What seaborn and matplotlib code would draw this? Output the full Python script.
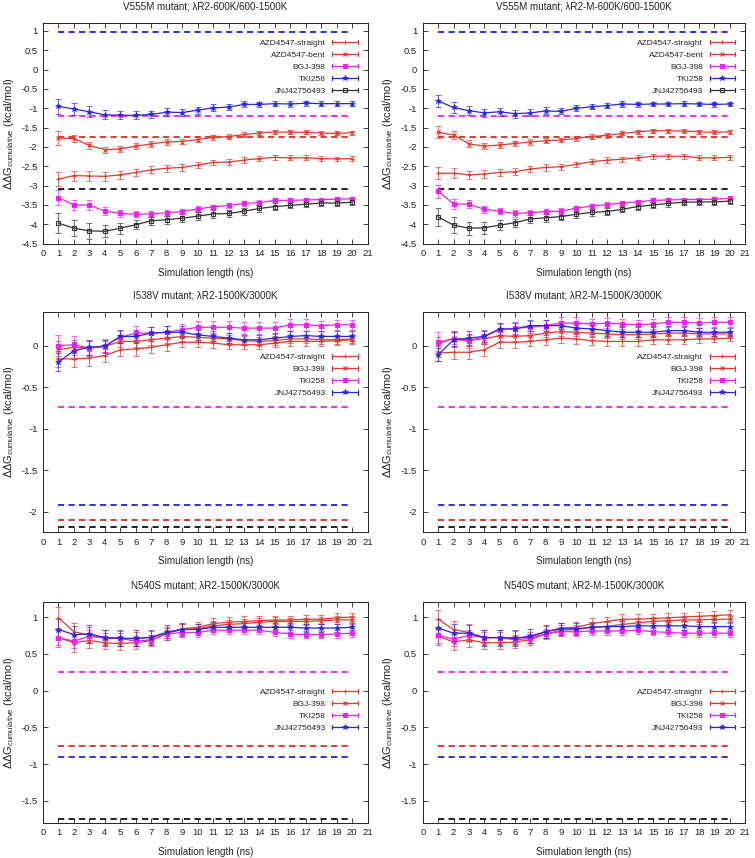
import matplotlib
matplotlib.use("Agg")
import matplotlib.pyplot as plt
import seaborn as sns
import pandas as pd
from matplotlib.legend_handler import HandlerBase
from matplotlib.lines import Line2D

ns = list(range(1, 21))

# ---------------- Panel 1: V555M, lambdaR2-600K/600-1500K ----------------
p1_straight = [-2.83, -2.74, -2.75, -2.76, -2.72, -2.66, -2.59, -2.55, -2.53, -2.47,
               -2.40, -2.39, -2.34, -2.30, -2.27, -2.28, -2.28, -2.30, -2.31, -2.30]
p1_straight_err = [0.18, 0.13, 0.12, 0.11, 0.10, 0.10, 0.09, 0.09, 0.08, 0.08,
                   0.07, 0.07, 0.07, 0.06, 0.06, 0.06, 0.06, 0.06, 0.06, 0.06]
p1_bent = [-1.77, -1.78, -1.96, -2.07, -2.05, -1.98, -1.92, -1.87, -1.86, -1.81,
           -1.75, -1.73, -1.68, -1.64, -1.61, -1.62, -1.62, -1.64, -1.65, -1.63]
p1_bent_err = [0.17, 0.10, 0.08, 0.08, 0.08, 0.08, 0.07, 0.07, 0.07, 0.06,
               0.06, 0.06, 0.06, 0.05, 0.05, 0.05, 0.05, 0.05, 0.05, 0.05]
p1_bgj = [-3.31, -3.50, -3.50, -3.66, -3.72, -3.74, -3.73, -3.70, -3.67, -3.60,
          -3.55, -3.51, -3.46, -3.44, -3.38, -3.38, -3.37, -3.36, -3.35, -3.34]
p1_bgj_err = [0.20, 0.14, 0.12, 0.10, 0.09, 0.08, 0.08, 0.08, 0.07, 0.07,
              0.06, 0.06, 0.06, 0.06, 0.05, 0.05, 0.05, 0.05, 0.05, 0.05]
p1_tki = [-0.95, -1.02, -1.09, -1.17, -1.18, -1.18, -1.16, -1.10, -1.11, -1.05,
          -0.99, -0.97, -0.90, -0.90, -0.88, -0.89, -0.87, -0.88, -0.88, -0.88]
p1_tki_err = [0.20, 0.15, 0.14, 0.12, 0.11, 0.11, 0.10, 0.10, 0.10, 0.09,
              0.09, 0.08, 0.08, 0.07, 0.07, 0.07, 0.07, 0.07, 0.07, 0.07]
p1_jnj = [-3.97, -4.10, -4.17, -4.18, -4.10, -4.01, -3.91, -3.88, -3.84, -3.79,
          -3.73, -3.72, -3.66, -3.59, -3.54, -3.51, -3.48, -3.45, -3.45, -3.43]
p1_jnj_err = [0.25, 0.21, 0.20, 0.16, 0.14, 0.12, 0.11, 0.10, 0.10, 0.10,
              0.10, 0.09, 0.09, 0.08, 0.08, 0.08, 0.08, 0.08, 0.08, 0.08]
p1_ref = {"blue": 0.97, "magenta": -1.19, "red": -1.75, "black": -3.08}

# ---------------- Panel 2: V555M, lambdaR2-M-600K/600-1500K ----------------
p2_straight = [-2.68, -2.68, -2.72, -2.70, -2.66, -2.64, -2.57, -2.53, -2.51, -2.45,
               -2.38, -2.34, -2.32, -2.28, -2.24, -2.24, -2.24, -2.28, -2.28, -2.27]
p2_straight_err = [0.16, 0.13, 0.11, 0.10, 0.10, 0.09, 0.09, 0.08, 0.08, 0.07,
                   0.07, 0.07, 0.06, 0.06, 0.06, 0.06, 0.06, 0.06, 0.06, 0.06]
p2_bent = [-1.62, -1.69, -1.92, -1.98, -1.95, -1.91, -1.87, -1.84, -1.82, -1.78,
           -1.73, -1.70, -1.65, -1.61, -1.58, -1.58, -1.59, -1.61, -1.62, -1.61]
p2_bent_err = [0.15, 0.11, 0.09, 0.08, 0.08, 0.07, 0.07, 0.07, 0.06, 0.06,
               0.06, 0.06, 0.05, 0.05, 0.05, 0.05, 0.05, 0.05, 0.05, 0.05]
p2_bgj = [-3.15, -3.47, -3.48, -3.61, -3.66, -3.72, -3.70, -3.67, -3.66, -3.58,
          -3.53, -3.49, -3.45, -3.42, -3.38, -3.37, -3.36, -3.36, -3.35, -3.33]
p2_bgj_err = [0.17, 0.13, 0.11, 0.09, 0.08, 0.08, 0.07, 0.07, 0.07, 0.06,
              0.06, 0.06, 0.05, 0.05, 0.05, 0.05, 0.05, 0.05, 0.05, 0.05]
p2_tki = [-0.81, -0.98, -1.06, -1.12, -1.09, -1.14, -1.12, -1.07, -1.08, -1.00,
          -0.96, -0.93, -0.89, -0.90, -0.89, -0.89, -0.88, -0.89, -0.90, -0.89]
p2_tki_err = [0.16, 0.14, 0.12, 0.10, 0.10, 0.10, 0.09, 0.09, 0.08, 0.08,
              0.07, 0.07, 0.07, 0.06, 0.06, 0.06, 0.06, 0.06, 0.06, 0.06]
p2_jnj = [-3.81, -4.02, -4.10, -4.09, -4.02, -3.96, -3.86, -3.83, -3.80, -3.74,
          -3.69, -3.67, -3.61, -3.54, -3.50, -3.46, -3.43, -3.42, -3.42, -3.40]
p2_jnj_err = [0.24, 0.20, 0.17, 0.15, 0.12, 0.11, 0.10, 0.10, 0.10, 0.09,
              0.09, 0.09, 0.08, 0.08, 0.08, 0.08, 0.08, 0.08, 0.08, 0.08]
p2_ref = {"blue": 0.97, "magenta": -1.19, "red": -1.75, "black": -3.08}

# ---------------- Panel 3: I538V, lambdaR2-1500K/3000K ----------------
p3_straight = [-0.16, -0.16, -0.15, -0.12, -0.05, -0.04, -0.02, 0.01, 0.04, 0.04,
               0.03, 0.01, 0.01, 0.01, 0.03, 0.05, 0.05, 0.05, 0.06, 0.07]
p3_straight_err = [0.10, 0.10, 0.09, 0.08, 0.08, 0.08, 0.07, 0.07, 0.06, 0.06,
                   0.06, 0.05, 0.05, 0.05, 0.05, 0.05, 0.05, 0.05, 0.05, 0.05]
p3_bgj = [-0.05, -0.02, -0.03, -0.01, 0.05, 0.05, 0.07, 0.09, 0.11, 0.10,
          0.09, 0.08, 0.06, 0.05, 0.06, 0.08, 0.08, 0.07, 0.07, 0.08]
p3_bgj_err = [0.10, 0.09, 0.08, 0.07, 0.07, 0.07, 0.06, 0.06, 0.06, 0.05,
              0.05, 0.05, 0.05, 0.05, 0.05, 0.05, 0.05, 0.05, 0.05, 0.05]
p3_tki = [0.00, 0.01, -0.03, 0.00, 0.10, 0.15, 0.15, 0.16, 0.19, 0.22,
          0.22, 0.22, 0.21, 0.21, 0.21, 0.25, 0.25, 0.24, 0.25, 0.25]
p3_tki_err = [0.13, 0.10, 0.09, 0.08, 0.07, 0.08, 0.07, 0.07, 0.07, 0.07,
              0.07, 0.07, 0.07, 0.07, 0.07, 0.07, 0.07, 0.06, 0.06, 0.06]
p3_jnj = [-0.20, -0.06, -0.02, -0.01, 0.11, 0.11, 0.15, 0.16, 0.16, 0.13,
          0.11, 0.09, 0.07, 0.07, 0.09, 0.11, 0.12, 0.11, 0.11, 0.11]
p3_jnj_err = [0.11, 0.10, 0.09, 0.08, 0.08, 0.08, 0.07, 0.07, 0.07, 0.06,
              0.06, 0.06, 0.06, 0.06, 0.06, 0.06, 0.06, 0.06, 0.06, 0.06]
p3_ref = {"magenta": -0.74, "blue": -1.91, "red": -2.10, "black": -2.18}

# ---------------- Panel 4: I538V, lambdaR2-M-1500K/3000K ----------------
p4_straight = [-0.09, -0.08, -0.08, -0.05, 0.04, 0.04, 0.05, 0.07, 0.09, 0.08,
               0.06, 0.05, 0.05, 0.05, 0.07, 0.07, 0.07, 0.08, 0.08, 0.09]
p4_straight_err = [0.09, 0.08, 0.08, 0.07, 0.07, 0.07, 0.06, 0.06, 0.06, 0.06,
                   0.05, 0.05, 0.05, 0.05, 0.05, 0.05, 0.05, 0.05, 0.04, 0.04]
p4_bgj = [0.02, 0.09, 0.07, 0.08, 0.12, 0.11, 0.12, 0.15, 0.17, 0.16,
          0.15, 0.14, 0.13, 0.13, 0.14, 0.15, 0.15, 0.14, 0.14, 0.14]
p4_bgj_err = [0.08, 0.07, 0.07, 0.06, 0.06, 0.06, 0.05, 0.05, 0.05, 0.05,
              0.05, 0.05, 0.05, 0.05, 0.04, 0.04, 0.04, 0.04, 0.04, 0.04]
p4_tki = [0.04, 0.08, 0.05, 0.11, 0.19, 0.21, 0.22, 0.24, 0.27, 0.27,
          0.26, 0.27, 0.26, 0.25, 0.26, 0.28, 0.28, 0.27, 0.28, 0.28]
p4_tki_err = [0.12, 0.09, 0.08, 0.08, 0.07, 0.07, 0.07, 0.07, 0.07, 0.07,
              0.06, 0.06, 0.06, 0.06, 0.06, 0.06, 0.06, 0.06, 0.06, 0.06]
p4_jnj = [-0.11, 0.07, 0.09, 0.11, 0.20, 0.20, 0.24, 0.24, 0.24, 0.21,
          0.20, 0.18, 0.16, 0.16, 0.16, 0.18, 0.18, 0.16, 0.16, 0.16]
p4_jnj_err = [0.08, 0.09, 0.08, 0.07, 0.07, 0.07, 0.07, 0.07, 0.06, 0.06,
              0.06, 0.06, 0.06, 0.06, 0.06, 0.05, 0.05, 0.05, 0.05, 0.05]
p4_ref = {"magenta": -0.74, "blue": -1.91, "red": -2.10, "black": -2.18}

# ---------------- Panel 5: N540S, lambdaR2-1500K/3000K ----------------
p5_straight = [0.99, 0.80, 0.75, 0.72, 0.71, 0.70, 0.73, 0.79, 0.84, 0.86,
               0.91, 0.93, 0.94, 0.95, 0.96, 0.96, 0.97, 0.97, 0.99, 1.00]
p5_straight_err = [0.15, 0.12, 0.11, 0.10, 0.10, 0.09, 0.08, 0.08, 0.07, 0.07,
                   0.07, 0.07, 0.07, 0.06, 0.06, 0.06, 0.06, 0.06, 0.06, 0.06]
p5_bgj = [0.72, 0.65, 0.68, 0.65, 0.64, 0.65, 0.68, 0.78, 0.83, 0.84,
          0.88, 0.90, 0.91, 0.93, 0.94, 0.94, 0.94, 0.95, 0.96, 0.96]
p5_bgj_err = [0.13, 0.12, 0.10, 0.09, 0.09, 0.08, 0.07, 0.07, 0.07, 0.06,
              0.06, 0.06, 0.06, 0.06, 0.06, 0.05, 0.05, 0.05, 0.05, 0.05]
p5_tki = [0.72, 0.67, 0.74, 0.71, 0.71, 0.67, 0.69, 0.77, 0.79, 0.79,
          0.82, 0.82, 0.82, 0.82, 0.79, 0.77, 0.76, 0.76, 0.77, 0.78]
p5_tki_err = [0.10, 0.09, 0.08, 0.07, 0.07, 0.07, 0.06, 0.06, 0.06, 0.06,
              0.05, 0.05, 0.05, 0.05, 0.05, 0.05, 0.05, 0.05, 0.05, 0.05]
p5_jnj = [0.83, 0.76, 0.77, 0.72, 0.71, 0.71, 0.72, 0.79, 0.83, 0.83,
          0.86, 0.86, 0.86, 0.86, 0.86, 0.86, 0.85, 0.85, 0.85, 0.86]
p5_jnj_err = [0.14, 0.12, 0.12, 0.11, 0.11, 0.11, 0.10, 0.10, 0.09, 0.08,
              0.07, 0.07, 0.07, 0.07, 0.06, 0.06, 0.06, 0.06, 0.06, 0.06]
p5_ref = {"magenta": 0.25, "red": -0.76, "blue": -0.90, "black": -1.75}

# ---------------- Panel 6: N540S, lambdaR2-M-1500K/3000K ----------------
p6_straight = [0.97, 0.83, 0.79, 0.72, 0.72, 0.72, 0.72, 0.80, 0.85, 0.86,
               0.91, 0.94, 0.97, 0.97, 0.98, 0.99, 1.00, 1.01, 1.02, 1.03]
p6_straight_err = [0.13, 0.12, 0.11, 0.10, 0.10, 0.09, 0.08, 0.08, 0.07, 0.07,
                   0.07, 0.06, 0.07, 0.07, 0.06, 0.06, 0.06, 0.06, 0.06, 0.06]
p6_bgj = [0.74, 0.66, 0.69, 0.65, 0.65, 0.66, 0.69, 0.77, 0.82, 0.83,
          0.86, 0.87, 0.90, 0.92, 0.94, 0.95, 0.96, 0.96, 0.97, 0.97]
p6_bgj_err = [0.12, 0.11, 0.10, 0.09, 0.09, 0.08, 0.07, 0.07, 0.07, 0.06,
              0.06, 0.06, 0.06, 0.06, 0.06, 0.05, 0.05, 0.05, 0.05, 0.05]
p6_tki = [0.75, 0.70, 0.75, 0.72, 0.72, 0.69, 0.71, 0.77, 0.80, 0.80,
          0.81, 0.81, 0.81, 0.82, 0.80, 0.79, 0.78, 0.78, 0.78, 0.78]
p6_tki_err = [0.10, 0.09, 0.08, 0.07, 0.07, 0.07, 0.06, 0.06, 0.06, 0.06,
              0.05, 0.05, 0.05, 0.05, 0.05, 0.05, 0.05, 0.05, 0.05, 0.05]
p6_jnj = [0.85, 0.78, 0.78, 0.72, 0.72, 0.71, 0.74, 0.80, 0.84, 0.84,
          0.86, 0.87, 0.87, 0.88, 0.88, 0.88, 0.88, 0.87, 0.87, 0.87]
p6_jnj_err = [0.12, 0.12, 0.11, 0.11, 0.11, 0.11, 0.10, 0.09, 0.08, 0.08,
              0.07, 0.07, 0.07, 0.07, 0.06, 0.06, 0.06, 0.06, 0.06, 0.06]
p6_ref = {"magenta": 0.25, "red": -0.76, "blue": -0.90, "black": -1.75}

titles = [
    "V555M mutant; \u03bbR2-600K/600-1500K",
    "V555M mutant; \u03bbR2-M-600K/600-1500K",
    "I538V mutant; \u03bbR2-1500K/3000K",
    "I538V mutant; \u03bbR2-M-1500K/3000K",
    "N540S mutant; \u03bbR2-1500K/3000K",
    "N540S mutant; \u03bbR2-M-1500K/3000K",
]

RED = "#e23a30"
MAG = "#f020f0"
BLUE = "#2828e0"
BLACK = "#333333"
REF_COLORS = {"blue": "#3030e8", "magenta": "#f030f0", "red": "#e03a30", "black": "#222222"}

sns.set_theme(style="ticks")
plt.rcParams["font.family"] = ["Liberation Sans", "DejaVu Sans"]
plt.rcParams["mathtext.fontset"] = "custom"
plt.rcParams["mathtext.rm"] = "Liberation Sans"
plt.rcParams["mathtext.it"] = "Liberation Sans:italic"
plt.rcParams["mathtext.bf"] = "Liberation Sans:bold"

FS_TICK = 6.8
FS_LAB = 7.1
FS_YLAB = 7.9
FS_LEG = 6.0
TXT = "#222222"


class ErrHandler(HandlerBase):
    def create_artists(self, legend, orig_handle, xdescent, ydescent,
                       width, height, fontsize, trans):
        y = height / 2.0 - ydescent
        x0, x1 = -xdescent, width - xdescent
        c = orig_handle.get_color()
        cap = height * 0.38
        arts = [
            Line2D([x0, x1], [y, y], color=c, lw=0.9, transform=trans),
            Line2D([x0, x0], [y - cap, y + cap], color=c, lw=0.9, transform=trans),
            Line2D([x1, x1], [y - cap, y + cap], color=c, lw=0.9, transform=trans),
            Line2D([(x0 + x1) / 2.0], [y], ls="", marker=orig_handle.get_marker(),
                   ms=orig_handle.get_markersize(), mfc=orig_handle.get_markerfacecolor(),
                   mec=orig_handle.get_markeredgecolor(), mew=orig_handle.get_markeredgewidth(),
                   transform=trans),
        ]
        return arts


def style(marker, color):
    if marker == "s_open":
        return dict(marker="s", ms=3.3, mfc="none", mec=color, mew=0.8)
    if marker == "s":
        return dict(marker="s", ms=3.3, mfc=color, mec=color, mew=0.8)
    if marker == "*":
        return dict(marker="*", ms=4.2, mfc=color, mec=color, mew=0.5)
    return dict(marker=marker, ms=3.5, mfc=color, mec=color, mew=0.8)


def draw_panel(ax, series, refs, title, ylim, yticks, leg_anchor, leg_spacing):
    for key, val in refs.items():
        ax.hlines(val, ns[0], ns[-1], colors=REF_COLORS[key],
                  linestyles=(0, (3.2, 2.2)), lw=1.4, zorder=1)
    handles = []
    for name, y, e, color, mk in series:
        st = style(mk, color)
        ax.errorbar(ns, y, yerr=e, fmt="none", ecolor=color, elinewidth=0.8,
                    capsize=2.5, capthick=0.8, alpha=0.65, zorder=2)
        df = pd.DataFrame({"ns": ns, "dg": y})
        sns.lineplot(data=df, x="ns", y="dg", ax=ax, color=color, lw=0.9,
                     marker=st["marker"], markersize=st["ms"],
                     markerfacecolor=st["mfc"], markeredgecolor=st["mec"],
                     markeredgewidth=st["mew"], zorder=3)
        handles.append(Line2D([], [], color=color, lw=0.9, marker=st["marker"],
                              ms=st["ms"], mfc=st["mfc"], mec=st["mec"], mew=st["mew"],
                              label=name))
    ax.set_xlim(0, 21)
    ax.set_ylim(*ylim)
    ax.set_xticks(range(0, 22))
    ax.set_xticklabels([str(i) for i in range(0, 22)])
    ax.set_yticks(yticks)
    ax.set_yticklabels([f"{v:g}" for v in yticks])
    ax.tick_params(direction="in", top=True, right=True, length=3.5, width=0.6,
                   labelsize=FS_TICK, pad=4, colors=TXT)
    for s in ax.spines.values():
        s.set_linewidth(0.7)
        s.set_color(TXT)
    ax.set_title(title, fontsize=FS_LAB, pad=10, color=TXT)
    ax.set_xlabel("Simulation length (ns)", fontsize=FS_LAB, labelpad=7, color=TXT)
    ax.set_ylabel("\u0394\u0394G$_{\\mathrm{cumulative}}$ (kcal/mol)",
                  fontsize=FS_YLAB, labelpad=4, color=TXT)
    ax.legend(handles=handles, labels=[h.get_label() for h in handles],
              handler_map={Line2D: ErrHandler()}, loc="upper right",
              bbox_to_anchor=leg_anchor, frameon=False, markerfirst=False,
              fontsize=FS_LEG, handlelength=3.1, handletextpad=0.75,
              labelspacing=leg_spacing, borderaxespad=0.2)


fig = plt.figure(figsize=(7.55, 8.58), dpi=100)

pos_x = [(0.057, 0.430), (0.560, 0.427)]
pos_y = [(0.716, 0.257), (0.380, 0.256), (0.041, 0.257)]

yt1 = [-4.5, -4, -3.5, -3, -2.5, -2, -1.5, -1, -0.5, 0, 0.5, 1]
yt2 = [-2, -1.5, -1, -0.5, 0]
yt3 = [-1.5, -1, -0.5, 0, 0.5, 1]

panels = [
    ([("AZD4547-straight", p1_straight, p1_straight_err, RED, "+"),
      ("AZD4547-bent", p1_bent, p1_bent_err, RED, "x"),
      ("BGJ-398", p1_bgj, p1_bgj_err, MAG, "s"),
      ("TKI258", p1_tki, p1_tki_err, BLUE, "*"),
      ("JNJ42756493", p1_jnj, p1_jnj_err, BLACK, "s_open")],
     p1_ref, (0.985, 0.95), 0.5),
    ([("AZD4547-straight", p2_straight, p2_straight_err, RED, "+"),
      ("AZD4547-bent", p2_bent, p2_bent_err, RED, "x"),
      ("BGJ-398", p2_bgj, p2_bgj_err, MAG, "s"),
      ("TKI258", p2_tki, p2_tki_err, BLUE, "*"),
      ("JNJ42756493", p2_jnj, p2_jnj_err, BLACK, "s_open")],
     p2_ref, (0.985, 0.95), 0.5),
    ([("AZD4547-straight", p3_straight, p3_straight_err, RED, "+"),
      ("BGJ-398", p3_bgj, p3_bgj_err, RED, "x"),
      ("TKI258", p3_tki, p3_tki_err, MAG, "s"),
      ("JNJ42756493", p3_jnj, p3_jnj_err, BLUE, "*")],
     p3_ref, (0.985, 0.835), 0.5),
    ([("AZD4547-straight", p4_straight, p4_straight_err, RED, "+"),
      ("BGJ-398", p4_bgj, p4_bgj_err, RED, "x"),
      ("TKI258", p4_tki, p4_tki_err, MAG, "s"),
      ("JNJ42756493", p4_jnj, p4_jnj_err, BLUE, "*")],
     p4_ref, (0.985, 0.835), 0.5),
    ([("AZD4547-straight", p5_straight, p5_straight_err, RED, "+"),
      ("BGJ-398", p5_bgj, p5_bgj_err, RED, "x"),
      ("TKI258", p5_tki, p5_tki_err, MAG, "s"),
      ("JNJ42756493", p5_jnj, p5_jnj_err, BLUE, "*")],
     p5_ref, (0.985, 0.635), 0.5),
    ([("AZD4547-straight", p6_straight, p6_straight_err, RED, "+"),
      ("BGJ-398", p6_bgj, p6_bgj_err, RED, "x"),
      ("TKI258", p6_tki, p6_tki_err, MAG, "s"),
      ("JNJ42756493", p6_jnj, p6_jnj_err, BLUE, "*")],
     p6_ref, (0.985, 0.635), 0.5),
]
ylims = [(-4.5, 1.2), (-4.5, 1.2), (-2.24, 0.4), (-2.24, 0.4), (-1.8, 1.2), (-1.8, 1.2)]
yticks_all = [yt1, yt1, yt2, yt2, yt3, yt3]

for i, (series, refs, anchor, spacing) in enumerate(panels):
    row, col = divmod(i, 2)
    left, w = pos_x[col]
    bottom, h = pos_y[row]
    ax = fig.add_axes([left, bottom, w, h])
    draw_panel(ax, series, refs, titles[i], ylims[i], yticks_all[i], anchor, spacing)

fig.savefig("out.png", dpi=100, facecolor="white")
